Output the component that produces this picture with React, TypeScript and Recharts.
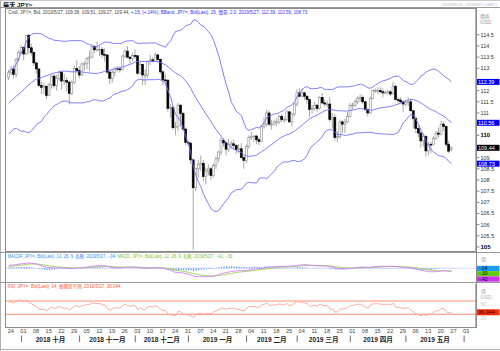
import React from "react";
import { ComposedChart, Bar, Line, XAxis, YAxis, ReferenceLine } from "recharts";

// USD/JPY closes before the visible window (2018/7/23 - 2018/9/21), only used to seed the indicators
const warmupCloses = [
  111.35, 111.2, 111.0, 111.05, 111.05, 111.05, 111.85, 111.7, 111.7, 111.25,
  111.4, 111.4, 110.95, 111.05, 110.9, 110.75, 111.15, 110.7, 110.9, 110.5,
  110.05, 110.25, 110.55, 111.3, 111.25, 111.1, 111.2, 111.7, 111.0, 111.05,
  111.05, 111.45, 111.5, 110.7, 111.0, 111.1, 111.6, 111.3, 111.9, 112.05,
  111.85, 112.35, 112.3, 112.5, 112.6,
];

// daily candles [open, high, low, close], 2018/9/24 .. 2019/5/27
const candles = [
  [112.58, 112.93, 112.48, 112.8], [112.8, 113.1, 112.7, 112.97], [112.97, 113.14, 112.55, 112.73], [112.73, 113.45, 112.6, 113.4], [113.4, 113.8, 113.3, 113.7],
  [113.7, 114.05, 113.65, 113.94], [113.94, 113.98, 113.35, 113.64], [113.64, 114.5, 113.6, 114.48], [114.48, 114.55, 113.65, 113.92], [113.92, 114.1, 113.57, 113.7],
  [113.7, 113.75, 113.1, 113.24], [113.24, 113.3, 112.75, 112.97], [112.97, 113.0, 112.15, 112.23], [112.23, 112.4, 111.85, 112.15], [112.15, 112.35, 111.85, 112.2],
  [112.2, 112.2, 111.62, 111.78], [111.78, 112.35, 111.75, 112.26], [112.26, 112.7, 112.1, 112.65], [112.65, 112.75, 112.1, 112.22], [112.22, 112.7, 112.0, 112.55],
  [112.55, 112.9, 112.45, 112.82], [112.82, 112.85, 112.05, 112.43], [112.43, 112.75, 112.25, 112.45], [112.45, 112.6, 111.95, 112.38], [112.38, 112.45, 111.38, 111.88],
  [111.88, 112.45, 111.8, 112.36], [112.36, 113.1, 112.3, 112.99], [112.99, 113.38, 112.8, 112.9], [112.9, 113.1, 112.55, 112.7], [112.7, 113.25, 112.65, 113.2],
  [113.2, 113.3, 112.9, 113.2], [113.2, 113.5, 112.95, 113.43], [113.43, 113.8, 112.9, 113.5], [113.5, 114.09, 113.45, 113.97], [113.97, 114.05, 113.7, 113.83],
  [113.83, 114.2, 113.75, 113.83], [113.83, 114.0, 113.55, 113.85], [113.85, 113.95, 113.45, 113.62], [113.62, 113.9, 113.3, 113.6], [113.6, 113.6, 112.75, 112.83],
  [112.83, 112.9, 112.3, 112.55], [112.55, 112.95, 112.35, 112.82], [112.82, 113.05, 112.65, 113.0], [113.0, 113.1, 112.85, 112.97], [112.97, 113.1, 112.8, 112.95],
  [112.95, 113.6, 112.9, 113.55], [113.55, 113.85, 113.45, 113.77], [113.77, 114.0, 113.45, 113.5], [113.5, 113.55, 113.2, 113.44], [113.44, 113.7, 113.3, 113.57],
  [113.57, 113.85, 113.4, 113.56], [113.56, 113.6, 112.7, 112.78], [112.78, 113.3, 112.75, 113.18], [113.18, 113.2, 112.25, 112.7], [112.7, 112.95, 112.25, 112.7],
  [112.7, 113.35, 112.55, 113.3], [113.3, 113.6, 113.15, 113.38], [113.38, 113.5, 113.25, 113.32], [113.32, 113.7, 113.3, 113.6], [113.6, 113.65, 113.25, 113.4],
  [113.4, 113.45, 112.75, 112.84], [112.84, 112.9, 112.25, 112.48], [112.48, 112.75, 112.2, 112.47], [112.47, 112.5, 111.05, 111.2], [111.2, 111.4, 110.8, 111.25],
  [111.25, 111.3, 110.25, 110.34], [110.34, 110.6, 110.0, 110.4], [110.4, 111.45, 110.2, 111.35], [111.35, 111.4, 110.4, 110.98], [110.98, 111.05, 110.2, 110.28],
  [110.28, 110.35, 109.55, 109.69], [109.69, 109.75, 109.55, 109.65], [109.65, 109.7, 108.7, 108.9], [108.9, 108.95, 104.87, 107.65], [107.65, 108.55, 107.5, 108.5],
  [108.5, 108.9, 108.1, 108.7], [108.7, 109.1, 108.4, 108.75], [108.75, 108.9, 107.95, 108.15], [108.15, 108.55, 107.8, 108.4], [108.4, 108.7, 108.2, 108.5],
  [108.5, 108.6, 108.0, 108.2], [108.2, 108.75, 108.1, 108.65], [108.65, 109.05, 108.5, 108.95], [108.95, 109.3, 108.8, 109.25], [109.25, 109.9, 109.1, 109.78],
  [109.78, 109.85, 109.5, 109.66], [109.66, 109.75, 109.1, 109.38], [109.38, 109.85, 109.25, 109.6], [109.6, 109.75, 109.4, 109.62], [109.62, 109.8, 109.35, 109.55],
  [109.55, 109.6, 109.15, 109.36], [109.36, 109.6, 109.2, 109.4], [109.4, 109.65, 108.95, 109.0], [109.0, 109.1, 108.5, 108.88], [108.88, 109.6, 108.75, 109.5],
  [109.5, 110.0, 109.4, 109.9], [109.9, 110.15, 109.8, 109.95], [109.95, 110.0, 109.7, 109.97], [109.97, 110.0, 109.6, 109.8], [109.8, 109.9, 109.55, 109.73],
  [109.73, 110.45, 109.7, 110.4], [110.4, 110.8, 110.3, 110.5], [110.5, 111.15, 110.4, 111.0], [111.0, 111.1, 110.4, 110.5], [110.5, 110.7, 110.25, 110.5],
  [110.5, 110.7, 110.45, 110.6], [110.6, 110.75, 110.4, 110.6], [110.6, 110.9, 110.5, 110.85], [110.85, 110.95, 110.6, 110.7], [110.7, 110.8, 110.55, 110.7],
  [110.7, 111.15, 110.65, 111.05], [111.05, 111.1, 110.55, 110.6], [110.6, 111.0, 110.4, 110.95], [110.95, 111.45, 110.85, 111.4], [111.4, 112.05, 111.3, 111.9],
  [111.9, 112.1, 111.7, 111.75], [111.75, 112.1, 111.7, 111.9], [111.9, 111.95, 111.6, 111.75], [111.75, 111.8, 111.4, 111.6], [111.6, 111.6, 110.8, 111.15],
  [111.15, 111.35, 110.95, 111.2], [111.2, 111.5, 111.1, 111.35], [111.35, 111.4, 111.05, 111.2], [111.2, 111.75, 111.15, 111.7], [111.7, 111.9, 111.4, 111.45],
  [111.45, 111.6, 111.3, 111.4], [111.4, 111.55, 111.25, 111.4], [111.4, 111.7, 110.6, 110.7], [110.7, 111.0, 110.3, 110.8], [110.8, 110.95, 109.75, 109.9],
  [109.9, 110.2, 109.7, 109.95], [109.95, 110.7, 109.85, 110.6], [110.6, 110.7, 110.1, 110.5], [110.5, 110.75, 110.1, 110.6], [110.6, 111.05, 110.55, 110.85],
  [110.85, 111.45, 110.8, 111.35], [111.35, 111.45, 111.15, 111.35], [111.35, 111.6, 111.25, 111.5], [111.5, 111.75, 111.4, 111.65], [111.65, 111.85, 111.5, 111.7],
  [111.7, 111.8, 111.4, 111.5], [111.5, 111.55, 111.1, 111.15], [111.15, 111.2, 110.85, 111.0], [111.0, 111.75, 110.95, 111.65], [111.65, 112.05, 111.6, 112.0],
  [112.0, 112.1, 111.9, 112.0], [112.0, 112.15, 111.85, 112.0], [112.0, 112.15, 111.85, 111.95], [111.95, 112.1, 111.7, 111.9], [111.9, 112.0, 111.85, 111.92],
  [111.92, 112.05, 111.8, 111.95], [111.95, 112.0, 111.75, 111.85], [111.85, 112.4, 111.85, 112.2], [112.2, 112.25, 111.55, 111.6], [111.6, 111.7, 111.4, 111.58],
  [111.58, 111.7, 111.4, 111.5], [111.5, 111.55, 111.05, 111.4], [111.4, 111.6, 111.3, 111.48], [111.48, 111.7, 111.3, 111.5], [111.5, 111.65, 111.05, 111.1],
  [111.1, 111.1, 110.3, 110.75], [110.75, 110.85, 110.1, 110.3], [110.3, 110.45, 109.9, 110.1], [110.1, 110.2, 109.45, 109.75], [109.75, 110.05, 109.5, 109.95],
  [109.95, 110.0, 109.05, 109.3], [109.3, 109.7, 109.1, 109.6], [109.6, 109.7, 109.2, 109.58], [109.58, 109.95, 109.55, 109.85], [109.85, 110.2, 109.8, 110.1],
  [110.1, 110.35, 109.9, 110.05], [110.05, 110.65, 110.0, 110.5], [110.5, 110.6, 110.2, 110.4], [110.4, 110.45, 109.5, 109.6], [109.6, 109.75, 109.2, 109.29],
  [109.38, 109.51, 109.27, 109.44],
];

// week ticks (Mondays) on the date axis
const weekLabels = [
  "24", "01", "08", "15", "22", "29", "05", "12", "19", "26", "03", "10", "17", "24", "31", "07", "14", "21", "28",
  "04", "11", "18", "25", "04", "11", "18", "25", "01", "08", "15", "22", "29", "06", "13", "20", "27", "03",
];
const monthStarts = [5, 28, 50, 71, 94, 114, 135, 157, 180];
const monthNames = ["2018 十月", "2018 十一月", "2018 十二月", "2019 一月", "2019 二月", "2019 三月", "2019 四月", "2019 五月"];

// price ticks that are not covered by the value tags
const priceTicks = [105, 105.5, 106, 106.5, 107, 107.5, 108, 108.5, 109, 110, 111, 111.5, 112, 113, 113.5, 114, 114.5];
const rsiTicks = [20, 60];

// last values as printed in the chart legends
const bandLast = [112.39, 110.56, 108.73];
const lastClose = 109.44;
const macdfLast = -0.04;
const macdLast = -0.42;
const signalLast = -0.3;
const rsiLast = 36.044;

const FONT = "'Liberation Sans', 'Noto Sans CJK TC', sans-serif";
const X_DOMAIN = [-1.5, 184.7];
const PRICE_DOMAIN = [104.82, 115.7];
const MACD_DOMAIN = [-1.9, 2.1];
const RSI_DOMAIN = [-8.2, 121.1];

// indicators derived from the closes, same settings as the legends
const closes = [...warmupCloses, ...candles.map((c) => c[3])];
const W = warmupCloses.length;

const ema = (src: number[], n: number) => {
  const k = 2 / (n + 1);
  const out: number[] = [];
  src.forEach((v, i) => out.push(i === 0 ? v : v * k + out[i - 1] * (1 - k)));
  return out;
};
const ema12 = ema(closes, 12);
const ema26 = ema(closes, 26);
const macdArr = closes.map((_, i) => ema12[i] - ema26[i]);
const signalArr = ema(macdArr, 9);

const rsiArr: number[] = [];
let avgGain = 0;
let avgLoss = 0;
for (let i = 1; i < closes.length; i++) {
  const d = closes[i] - closes[i - 1];
  const g = Math.max(d, 0);
  const l = Math.max(-d, 0);
  if (i <= 14) {
    avgGain += g / 14;
    avgLoss += l / 14;
  } else {
    avgGain = (avgGain * 13 + g) / 14;
    avgLoss = (avgLoss * 13 + l) / 14;
  }
  rsiArr[i] = avgLoss === 0 ? 100 : 100 - 100 / (1 + avgGain / avgLoss);
}

const bands = (i: number) => {
  const win = closes.slice(i - 25, i + 1);
  const m = win.reduce((a, b) => a + b, 0) / win.length;
  const sd = Math.sqrt(win.reduce((a, b) => a + (b - m) * (b - m), 0) / win.length);
  return [m + 2 * sd, m, m - 2 * sd];
};

const data = candles.map((c, k) => {
  const i = W + k;
  const [bbU, bbM, bbL] = bands(i);
  return {
    i: k,
    o: c[0],
    h: c[1],
    l: c[2],
    c: c[3],
    bbU,
    bbM,
    bbL,
    macd: macdArr[i],
    signal: signalArr[i],
    hist: macdArr[i] - signalArr[i],
    rsi: rsiArr[i],
  };
});

const weekTicks = weekLabels.map((_, k) => k * 5);
const monthMids = monthNames.map((_, k) => (monthStarts[k] + monthStarts[k + 1]) / 2);

const Candle = (props: any) => {
  const { x, y, width, height, payload } = props;
  if (x == null || !payload) return null;
  const cx = x + width / 2;
  const top = Math.min(y, y + height);
  const span = Math.abs(height);
  const ppu = span / (payload.h - payload.l);
  const yOf = (v: number) => top + (payload.h - v) * ppu;
  const up = payload.c >= payload.o;
  const bTop = yOf(Math.max(payload.o, payload.c));
  const bBot = yOf(Math.min(payload.o, payload.c));
  return (
    <g>
      <line x1={cx} x2={cx} y1={top} y2={top + span} stroke="#a8a8a8" strokeWidth={1} />
      <rect
        x={cx - 1}
        y={bTop}
        width={2}
        height={Math.max(bBot - bTop, 0.8)}
        fill={up ? "#ffffff" : "#000000"}
        stroke={up ? "#8a8a8a" : "#000000"}
        strokeWidth={0.6}
      />
    </g>
  );
};

const PriceTick = ({ x, y, payload }: any) => {
  const v = payload.value;
  const major = v % 5 === 0;
  return (
    <g>
      <line x1={x + 1} x2={x + 3.5} y1={y} y2={y} stroke="#555" strokeWidth={0.7} />
      <text x={x + 4.5} y={y + 2} fontSize={major ? 6 : 5.5} fontWeight={major ? 700 : 400} fill={major ? "#000" : "#333"} fontFamily={FONT}>
        {Number.isInteger(v) ? String(v) : v.toFixed(1)}
      </text>
    </g>
  );
};

const RsiTick = ({ x, y, payload }: any) => (
  <text x={x + 4.5} y={y + 2} fontSize={5} fill="#c8c8c8" fontFamily={FONT}>
    {payload.value}
  </text>
);

const DayTick = ({ x, y, payload }: any) => (
  <text x={x + 2} y={y + 5.5} fontSize={5.6} fill="#444" textAnchor="middle" fontFamily={FONT}>
    {weekLabels[Math.round(payload.value / 5)]}
  </text>
);

const MonthTick = ({ x, y, payload }: any) => {
  const k = monthStarts.indexOf(payload.value);
  if (k >= 0) {
    return <line x1={x} x2={x} y1={y - 1.5} y2={y + 5} stroke="#444" strokeWidth={0.8} />;
  }
  const m = monthMids.indexOf(payload.value);
  return (
    <text x={x} y={y + 4.5} fontSize={6.6} fontWeight={700} fill="#222" textAnchor="middle" fontFamily={FONT}>
      {monthNames[m]}
    </text>
  );
};

const tag = (fill: string, text: string, color: string) => (props: any) => {
  const vb = props.viewBox || {};
  const x0 = (vb.x || 0) + (vb.width || 0);
  const yc = vb.y || 0;
  return (
    <g>
      <rect x={x0 + 0.5} y={yc - 3} width={23} height={6} fill={fill} />
      <text x={x0 + 2} y={yc + 2} fontSize={5.5} fill={color} fontFamily={FONT}>
        {text}
      </text>
    </g>
  );
};

const macdTags = (props: any) => {
  const vb = props.viewBox || {};
  const x0 = (vb.x || 0) + (vb.width || 0);
  const yc = vb.y || 0;
  const rows = [
    ["#1a9cf5", macdfLast],
    ["#66cc11", signalLast],
    ["#cc33ee", macdLast],
  ] as [string, number][];
  return (
    <g>
      {rows.map(([fill, v], k) => (
        <g key={k}>
          <rect x={x0 + 0.5} y={yc - 2.7 + k * 5.3} width={23} height={5.3} fill={fill} />
          <text x={x0 + 3} y={yc + 1.4 + k * 5.3} fontSize={5} fill="#111" fontFamily={FONT}>
            {v.toFixed(2).replace("0.", ".")}
          </text>
        </g>
      ))}
    </g>
  );
};

export default function App() {
  return (
    <div style={{ position: "absolute", left: 0, top: 0, width: 500, height: 351, background: "#fff", overflow: "hidden", fontFamily: FONT }}>
      <div style={{ position: "absolute", left: 0, top: 0 }}>
        <ComposedChart width={500} height={252} data={data} margin={{ top: 8, right: 0, bottom: 1, left: 5 }}>
          <XAxis dataKey="i" type="number" domain={X_DOMAIN} allowDataOverflow hide />
          <YAxis
            orientation="right"
            width={24}
            domain={PRICE_DOMAIN}
            allowDataOverflow
            ticks={priceTicks}
            interval={0}
            tickLine={false}
            tickSize={0}
            tickMargin={0}
            axisLine={{ stroke: "#666" }}
            tick={<PriceTick />}
          />
          <Line dataKey="bbU" stroke="#6f6fff" strokeWidth={0.9} dot={false} isAnimationActive={false} />
          <Line dataKey="bbM" stroke="#6f6fff" strokeWidth={0.9} dot={false} isAnimationActive={false} />
          <Line dataKey="bbL" stroke="#6f6fff" strokeWidth={0.9} dot={false} isAnimationActive={false} />
          <Bar dataKey={(d: any) => [d.l, d.h]} barSize={2} shape={<Candle />} isAnimationActive={false} />
          <ReferenceLine y={bandLast[0]} stroke="transparent" label={tag("#0000ff", bandLast[0].toFixed(2), "#fff")} />
          <ReferenceLine y={bandLast[1]} stroke="transparent" label={tag("#0000ff", bandLast[1].toFixed(2), "#fff")} />
          <ReferenceLine y={bandLast[2]} stroke="transparent" label={tag("#0000ff", bandLast[2].toFixed(2), "#fff")} />
          <ReferenceLine y={lastClose} stroke="transparent" label={tag("#000000", lastClose.toFixed(2), "#fff")} />
        </ComposedChart>
      </div>

      <div style={{ position: "absolute", left: 0, top: 252 }}>
        <ComposedChart width={500} height={30} data={data} margin={{ top: 1, right: 24, bottom: 0, left: 5 }}>
          <XAxis dataKey="i" type="number" domain={X_DOMAIN} allowDataOverflow hide />
          <YAxis domain={MACD_DOMAIN} allowDataOverflow hide />
          <ReferenceLine y={0} stroke="#b9b9ff" strokeWidth={0.6} />
          <Bar dataKey="hist" fill="#3a8cff" barSize={1} isAnimationActive={false} />
          <Line dataKey="signal" stroke="#9ad14a" strokeWidth={0.9} dot={false} isAnimationActive={false} />
          <Line dataKey="macd" stroke="#d27cff" strokeWidth={0.9} dot={false} isAnimationActive={false} />
          <ReferenceLine y={macdfLast} stroke="transparent" label={macdTags} />
        </ComposedChart>
      </div>

      <div style={{ position: "absolute", left: 0, top: 283 }}>
        <ComposedChart width={500} height={68} data={data} margin={{ top: 1, right: 0, bottom: 0, left: 5 }}>
          <XAxis xAxisId="d" dataKey="i" type="number" domain={X_DOMAIN} allowDataOverflow ticks={weekTicks} interval={0} height={10} axisLine={false} tickLine={false} tickSize={0} tickMargin={0} tick={<DayTick />} />
          <XAxis xAxisId="m" dataKey="i" type="number" domain={X_DOMAIN} allowDataOverflow ticks={[...monthStarts, ...monthMids]} interval={0} height={14} axisLine={false} tickLine={false} tickSize={0} tickMargin={0} tick={<MonthTick />} />
          <YAxis orientation="right" width={24} domain={RSI_DOMAIN} allowDataOverflow ticks={rsiTicks} interval={0} tickLine={false} tickSize={0} tickMargin={0} axisLine={{ stroke: "#666" }} tick={<RsiTick />} />
          <ReferenceLine xAxisId="d" y={70} stroke="#ff8f76" strokeWidth={1} />
          <ReferenceLine xAxisId="d" y={30} stroke="#ff8f76" strokeWidth={1} />
          <Line xAxisId="d" dataKey="rsi" stroke="#ffa48e" strokeWidth={0.9} dot={false} isAnimationActive={false} />
          <ReferenceLine xAxisId="d" y={rsiLast} stroke="transparent" label={tag("#ff2a00", rsiLast.toFixed(3), "#3a0000")} />
        </ComposedChart>
      </div>

      <svg width={500} height={351} style={{ position: "absolute", left: 0, top: 0, pointerEvents: "none" }} fontFamily={FONT}>
        <line x1={0} x2={500} y1={0.5} y2={0.5} stroke="#c8c8c8" />
        <line x1={0.5} x2={0.5} y1={0} y2={351} stroke="#b0b0b0" />
        <line x1={0} x2={500} y1={349.5} y2={349.5} stroke="#b0b0b0" />
        <text x={3} y={6.6} fontSize={6.2} fontWeight={700} fill="#111">每天 JPY=</text>
        <text x={497} y={6} fontSize={4.4} fill="#b8b8b8" textAnchor="end">2018/9/24 - 2019/6/7 (GMT)</text>
        <line x1={0} x2={500} y1={7.5} y2={7.5} stroke="#9a9a9a" />
        <rect x={5.5} y={8.5} width={471} height={243} fill="none" stroke="#8a8a8a" />
        <line x1={0} x2={500} y1={252.5} y2={252.5} stroke="#9a9a9a" />
        <line x1={0} x2={500} y1={282.5} y2={282.5} stroke="#9a9a9a" />
        <line x1={5.5} x2={5.5} y1={252} y2={327.5} stroke="#8a8a8a" />
        <line x1={476.5} x2={476.5} y1={252} y2={327.5} stroke="#8a8a8a" />
        <line x1={5} x2={477} y1={327.5} y2={327.5} stroke="#8a8a8a" />
        <text x={480} y={18} fontSize={4.8} fill="#9a9a9a">價格</text>
        <text x={480} y={23.5} fontSize={4.8} fill="#9a9a9a">/USD</text>
        <text x={481} y={261} fontSize={4.8} fill="#b0b0b0">價</text>
        <text x={481} y={293} fontSize={4.8} fill="#b0b0b0">價</text>
        <text x={480} y={298.5} fontSize={4.8} fill="#b0b0b0">/USD</text>
        <text x={8.3} y={13.6} fontSize={4.6} textLength={299} lengthAdjust="spacingAndGlyphs">
          <tspan fill="#444">Cndl, JPY=, Bid, 2019/5/27, 109.38, 109.51, 109.27, 109.44, </tspan>
          <tspan fill="#2f2fff">+.15, (+.14%), BBand, JPY=, Bid(Last), 26, 簡單, 2.0, 2019/5/27, 112.39, 110.56, 108.73</tspan>
        </text>
        <text x={7.5} y={258} fontSize={4.6} textLength={225} lengthAdjust="spacingAndGlyphs">
          <tspan fill="#2f8fff">MACDF, JPY=, Bid(Last), 12, 26, 9, 指數, 2019/5/27, -.04, </tspan>
          <tspan fill="#7cc22a">MACD, JPY=, Bid(Last), 12, 26, 9, 指數, 2019/5/27, -.42, -.30</tspan>
        </text>
        <text x={7.5} y={287.5} fontSize={4.6} fill="#ff5a3a" textLength={113} lengthAdjust="spacingAndGlyphs">
          RSI, JPY=, Bid(Last), 14, 維爾德平滑, 2019/5/27, 36.044
        </text>
      </svg>
    </div>
  );
}
